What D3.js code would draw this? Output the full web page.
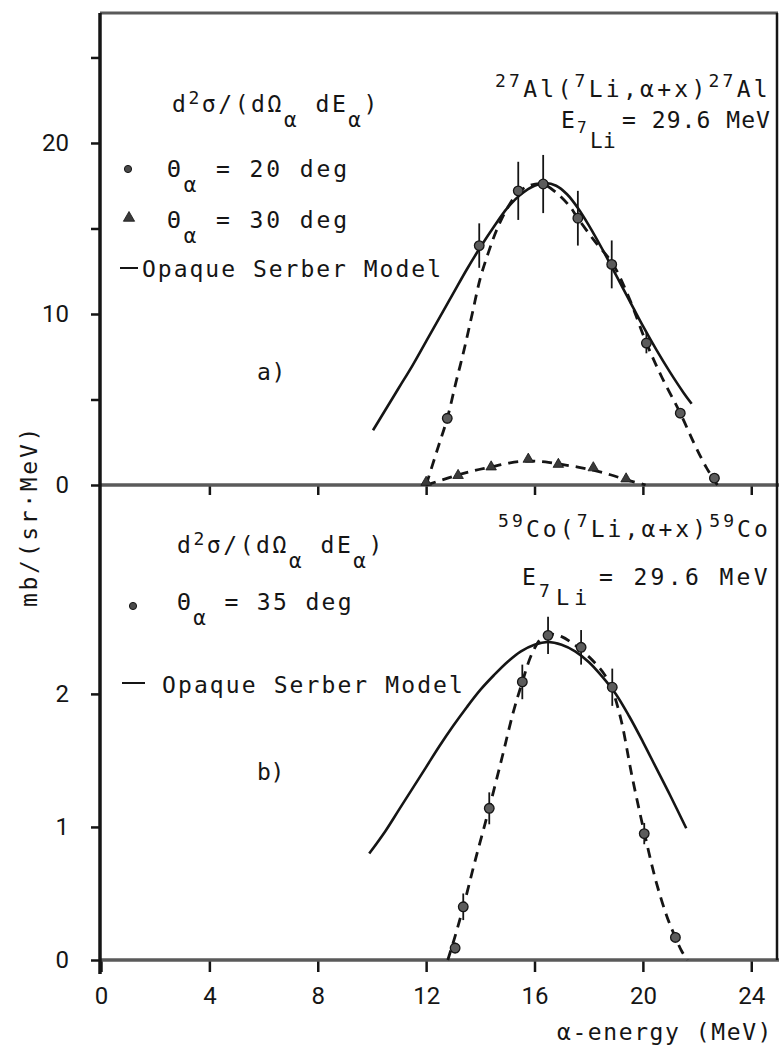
<!DOCTYPE html>
<html><head><meta charset="utf-8">
<script src="https://cdn.jsdelivr.net/npm/d3@7"></script>
<style>body{margin:0;background:#fff} text{white-space:pre}</style>
</head><body>
<svg id="c" width="779" height="1050"></svg>
<script>
// ---------- DATA ----------
const xTicks = [0, 4, 8, 12, 16, 20, 24];
const topYTicks = [0, 5, 10, 15, 20, 25];
const topYLabels = [0, 10, 20];
const botYTicks = [0, 1, 2];

// panel a) 27Al, theta = 20 deg (circles)
const a20E   = [12.78, 13.96, 15.40, 16.32, 17.60, 18.85, 20.13, 21.38, 22.64];
const a20V   = [3.9, 14.0, 17.2, 17.6, 15.6, 12.9, 8.3, 4.2, 0.4];
const a20Err = [0.3, 1.3, 1.7, 1.7, 1.6, 1.4, 0.6, 0.3, 0.1];
// panel a) theta = 30 deg (triangles)
const a30E = [12.0, 13.18, 14.4, 15.77, 16.88, 18.17, 19.38];
const a30V = [0.1, 0.5, 1.0, 1.45, 1.15, 0.95, 0.3];
// panel a) dashed guide curves
const aFit20E = [12.0,12.4,12.78,13.1,13.4,13.7,14.0,14.3,14.6,15.0,15.4,15.8,16.3,16.8,17.3,17.6,18.2,18.9,19.5,20.13,20.7,21.38,21.9,22.35,22.75];
const aFit20V = [0,2.0,3.9,6.0,7.9,10.0,12.1,13.6,14.9,16.2,17.1,17.5,17.6,17.1,16.3,15.6,14.3,12.9,10.9,8.3,6.3,4.2,2.4,1.0,0];
const aFit30E = [12.0,12.6,13.2,13.8,14.4,15.1,15.8,16.4,17.0,17.6,18.2,18.8,19.4,20.1];
const aFit30V = [0,0.3,0.6,0.85,1.05,1.3,1.4,1.35,1.2,1.05,0.85,0.6,0.3,0];
// panel a) Opaque Serber Model
const aSerE = [10.04,10.5,11,11.5,12,12.5,13,13.5,14,14.5,15,15.5,16,16.4,16.8,17.2,17.6,18,18.5,19,19.5,20,20.5,21,21.5,21.8];
const aSerV = [3.2,4.4,5.7,7.0,8.4,9.8,11.2,12.6,13.9,15.1,16.2,17.0,17.5,17.65,17.5,17.0,16.2,15.2,13.8,12.3,10.8,9.3,7.9,6.6,5.4,4.75];

// panel b) 59Co, theta = 35 deg
const b35E   = [13.07, 13.37, 14.33, 15.55, 16.5, 17.72, 18.87, 20.05, 21.2];
const b35V   = [0.09, 0.40, 1.14, 2.09, 2.44, 2.35, 2.05, 0.95, 0.17];
const b35Err = [0.04, 0.10, 0.12, 0.13, 0.14, 0.13, 0.14, 0.08, 0.04];
const bFitE = [12.8,13.1,13.4,13.8,14.3,14.8,15.2,15.55,15.9,16.25,16.5,17.0,17.4,17.72,18.2,18.6,18.87,19.2,19.6,20.05,20.5,20.9,21.2,21.45,21.65];
const bFitV = [0,0.2,0.42,0.74,1.12,1.52,1.85,2.09,2.30,2.42,2.45,2.43,2.38,2.33,2.24,2.14,2.03,1.80,1.38,0.96,0.58,0.32,0.17,0.06,0];
const bSerE = [9.9,10.5,11,11.5,12,12.5,13,13.5,14,14.5,15,15.5,16,16.5,17,17.5,18,18.5,19,19.5,20,20.5,21,21.6];
const bSerV = [0.80,0.97,1.13,1.29,1.45,1.61,1.76,1.90,2.03,2.14,2.24,2.32,2.37,2.39,2.37,2.32,2.24,2.13,2.00,1.83,1.64,1.44,1.24,0.99];

// ---------- SCALES ----------
const svg = d3.select("#c");
const x = d3.scaleLinear().domain([0, 24.95]).range([101, 777]);
const yTop = d3.scaleLinear().domain([0, 27.6]).range([485, 13]);
const yBot = d3.scaleLinear().domain([0, 3.57]).range([960, 485]);
const INK = "#151515";
const MONO = "DejaVu Sans Mono";

// ---------- AXES ----------
const botAx = svg.append("g").attr("transform", "translate(0,960)")
  .call(d3.axisBottom(x).tickValues(xTicks).tickSize(12).tickPadding(15).tickFormat(d3.format("d")));
const midAx = svg.append("g").attr("transform", "translate(0,485)")
  .call(d3.axisBottom(x).tickValues(xTicks.filter(d => d > 0)).tickSize(10).tickFormat(""));
const topY = svg.append("g").attr("transform", "translate(100,0)")
  .call(d3.axisLeft(yTop).tickValues(topYTicks).tickSize(9).tickPadding(22)
    .tickFormat(d => topYLabels.includes(d) ? d : ""));
const botY = svg.append("g").attr("transform", "translate(100,0)")
  .call(d3.axisLeft(yBot).tickValues(botYTicks).tickSize(9).tickPadding(22).tickFormat(d3.format("d")));
[botAx, midAx, topY, botY].forEach(g => {
  g.select(".domain").remove();
  g.selectAll(".tick line").attr("stroke", INK).attr("stroke-width", 2.5);
  g.selectAll(".tick text").attr("fill", INK).attr("font-family", "Roboto").attr("font-size", 24);
});

// frame
const frame = svg.append("g").attr("fill", "none");
frame.append("line").attr("x1", 100).attr("x2", 778).attr("y1", yTop(27.6)).attr("y2", yTop(27.6)).attr("stroke", "#5a5a5a").attr("stroke-width", 3);
frame.append("line").attr("x1", 100).attr("x2", 779).attr("y1", yTop(0)).attr("y2", yTop(0)).attr("stroke", "#5a5a5a").attr("stroke-width", 3.5);
frame.append("line").attr("x1", 100).attr("x2", 779).attr("y1", yBot(0)).attr("y2", yBot(0)).attr("stroke", "#5a5a5a").attr("stroke-width", 3.5);
frame.append("line").attr("x1", 100).attr("x2", 100).attr("y1", yTop(27.6)).attr("y2", 974).attr("stroke", INK).attr("stroke-width", 3.5);
frame.append("line").attr("x1", 777).attr("x2", 777).attr("y1", yTop(27.6)).attr("y2", yBot(0)).attr("stroke", INK).attr("stroke-width", 2.5);

// ---------- CURVES ----------
function curve(E, V, y, dashed) {
  const line = d3.line().x(d => x(d[0])).y(d => y(d[1])).curve(d3.curveCatmullRom.alpha(0.5));
  svg.append("path").datum(E.map((e, i) => [e, V[i]]))
    .attr("d", line).attr("fill", "none").attr("stroke", INK)
    .attr("stroke-width", dashed ? 2.8 : 2.6)
    .attr("stroke-dasharray", dashed ? "10,7" : null);
}
curve(aSerE, aSerV, yTop, false);
curve(aFit20E, aFit20V, yTop, true);
curve(aFit30E, aFit30V, yTop, true);
curve(bSerE, bSerV, yBot, false);
curve(bFitE, bFitV, yBot, true);

// ---------- POINTS ----------
function points(E, V, Err, y) {
  const g = svg.append("g");
  E.forEach((e, i) => {
    g.append("line").attr("x1", x(e)).attr("x2", x(e))
      .attr("y1", y(V[i] - Err[i])).attr("y2", y(V[i] + Err[i]))
      .attr("stroke", INK).attr("stroke-width", 1.8);
    g.append("circle").attr("cx", x(e)).attr("cy", y(V[i])).attr("r", 4.8)
      .attr("fill", "#5c5c5c").attr("stroke", INK).attr("stroke-width", 1.3);
  });
}
points(a20E, a20V, a20Err, yTop);
points(b35E, b35V, b35Err, yBot);
const tri = d3.symbol().type(d3.symbolTriangle).size(48);
svg.append("g").selectAll("path").data(a30E.map((e, i) => [e, a30V[i]])).join("path")
  .attr("d", tri).attr("transform", d => `translate(${x(d[0])},${yTop(d[1]) - 1})`)
  .attr("fill", "#3a3a3a").attr("stroke", INK).attr("stroke-width", 0.8);

// ---------- TEXT ----------
function rich(parent, parts, x0, x1, y, base) {
  base = base || 23;
  const els = parts.map(p => parent.append("text").attr("xml:space", "preserve")
    .attr("font-family", MONO).attr("fill", INK)
    .attr("font-size", p.fs || base).attr("y", y + (p.dy || 0)).text(p.t));
  const w = els.map(e => e.node().getComputedTextLength());
  const n = d3.sum(parts, p => [...p.t].length);
  const ls = (x1 - x0 - d3.sum(w)) / n;
  let cx = x0;
  els.forEach((e, i) => { e.attr("x", cx).attr("letter-spacing", ls); cx += w[i] + ls * [...parts[i].t].length; });
}
const T = svg.append("g");
const SUB = {fs: 21, dy: 15};
const SUP = {fs: 18, dy: -10};
const sub = t => Object.assign({t}, SUB);
const sup = t => Object.assign({t}, SUP);

// panel a legend
rich(T, [{t:"d"}, {t:"2", fs:18, dy:-8}, {t:"σ/(dΩ"}, sub("α"), {t:" dE"}, sub("α"), {t:")"}], 172, 380, 112);
rich(T, [{t:"Θ"}, sub("α"), {t:" = 20 deg"}], 167, 350, 177);
rich(T, [{t:"Θ"}, sub("α"), {t:" = 30 deg"}], 167, 350, 228);
T.append("line").attr("x1", 120).attr("x2", 138).attr("y1", 268).attr("y2", 268).attr("stroke", INK).attr("stroke-width", 2);
rich(T, [{t:"Opaque Serber Model"}], 142, 443, 277);
rich(T, [{t:"a)"}], 257, 286, 380);
T.append("circle").attr("cx", 128).attr("cy", 169).attr("r", 3.6).attr("fill", "#4a4a4a").attr("stroke", INK);
T.append("path").attr("d", d3.symbol().type(d3.symbolTriangle).size(55)).attr("transform", "translate(129,218)").attr("fill", "#3a3a3a").attr("stroke", INK).attr("stroke-width", 0.8);

// panel a title
rich(T, [sup("27"), {t:"Al("}, sup("7"), {t:"Li,α+x)"}, sup("27"), {t:"Al"}], 495, 771, 97);
rich(T, [{t:"E"}], 561, 576, 128);
rich(T, [{t:"7", fs:16}], 577, 587, 133);
rich(T, [{t:"Li", fs:21}], 590, 616, 148);
rich(T, [{t:"= 29.6 MeV"}], 622, 771, 128);

// panel b legend
rich(T, [{t:"d"}, {t:"2", fs:18, dy:-8}, {t:"σ/(dΩ"}, sub("α"), {t:" dE"}, sub("α"), {t:")"}], 177, 385, 553);
rich(T, [{t:"Θ"}, sub("α"), {t:" = 35 deg"}], 177, 354, 610);
T.append("circle").attr("cx", 133).attr("cy", 606).attr("r", 3.6).attr("fill", "#4a4a4a").attr("stroke", INK);
T.append("line").attr("x1", 122).attr("x2", 145).attr("y1", 683).attr("y2", 683).attr("stroke", INK).attr("stroke-width", 2);
rich(T, [{t:"Opaque Serber Model"}], 162, 465, 693);
rich(T, [{t:"b)"}], 257, 284, 780);

// panel b title
rich(T, [sup("59"), {t:"Co("}, sup("7"), {t:"Li,α+x)"}, sup("59"), {t:"Co"}], 498, 771, 537);
rich(T, [{t:"E"}], 522, 537, 585);
rich(T, [{t:"7", fs:18}], 539, 550, 597);
rich(T, [{t:"Li", fs:22}], 556, 592, 605);
rich(T, [{t:"= 29.6 MeV"}], 599, 771, 585);

// axis titles
const yl = svg.append("g").attr("transform", "translate(37,607) rotate(-90)");
rich(yl, [{t:"mb/(sr·MeV)"}], 0, 182, 0);
rich(T, [{t:"α-energy (MeV)"}], 557, 773, 1040);
</script>
</body></html>
